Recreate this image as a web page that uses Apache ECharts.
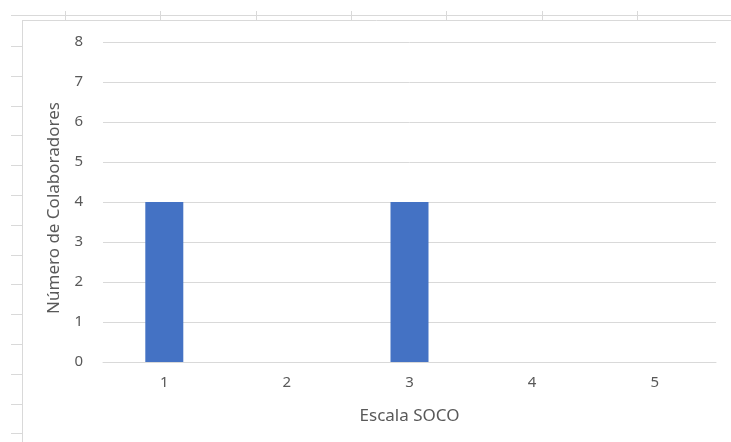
<!DOCTYPE html>
<html><head><meta charset="utf-8">
<script src="https://cdn.jsdelivr.net/npm/echarts@6/dist/echarts.min.js"></script>
<style>html,body{margin:0;padding:0;background:#fff}#c{width:731px;height:442px}</style>
</head><body><div id="c"></div>
<script>
const categories = ['1','2','3','4','5'];
const values = [4, 0, 4, 0, 0];
const yTicks = [0, 1, 2, 3, 4, 5, 6, 7, 8];
const xTitle = 'Escala SOCO';
const yTitle = 'Número de Colaboradores';

const chart = echarts.init(document.getElementById('c'), null, {renderer:'canvas'});
const lineCol = '#d9d9d9';
const font = 'Noto Sans';
const txt = '#595959';

// spreadsheet ruler decoration
const g = [];
g.push({type:'line', shape:{x1:11,y1:15.5,x2:731,y2:15.5}, style:{stroke:lineCol,lineWidth:1}});
g.push({type:'line', shape:{x1:22,y1:20.5,x2:731,y2:20.5}, style:{stroke:lineCol,lineWidth:1}});
g.push({type:'line', shape:{x1:22.5,y1:21,x2:22.5,y2:442}, style:{stroke:lineCol,lineWidth:1}});
for (let i = 0; i < 7; i++) {
  const x = Math.round(65 + i*95.3) + 0.5;
  g.push({type:'line', shape:{x1:x,y1:11,x2:x,y2:21}, style:{stroke:lineCol,lineWidth:1}});
}
for (let i = 0; i < 14; i++) {
  const y = Math.round(46 + i*29.8) + 0.5;
  g.push({type:'line', shape:{x1:11,y1:y,x2:22,y2:y}, style:{stroke:lineCol,lineWidth:1}});
}

chart.setOption({
  animation:false,
  backgroundColor:'#fff',
  graphic:g,
  grid:{left:103, right:15, top:42, bottom:80},
  xAxis:{
    type:'category', data:categories,
    axisLine:{lineStyle:{color:lineCol}}, axisTick:{show:false},
    axisLabel:{color:txt, fontFamily:font, fontSize:15, margin:13},
    name:xTitle, nameLocation:'middle', nameGap:46,
    nameTextStyle:{color:txt, fontFamily:font, fontSize:17}
  },
  yAxis:{
    type:'value', min:yTicks[0], max:yTicks[yTicks.length-1], interval:1,
    axisLine:{show:false}, axisTick:{show:false},
    splitLine:{lineStyle:{color:lineCol}},
    axisLabel:{color:txt, fontFamily:font, fontSize:15, margin:20},
    name:yTitle, nameLocation:'middle', nameGap:40,
    nameTextStyle:{color:txt, fontFamily:font, fontSize:17, padding:[0,12,0,0]}
  },
  series:[{type:'bar', data:values, barWidth:38, itemStyle:{color:'#4472C4'}}]
});
</script></body></html>
